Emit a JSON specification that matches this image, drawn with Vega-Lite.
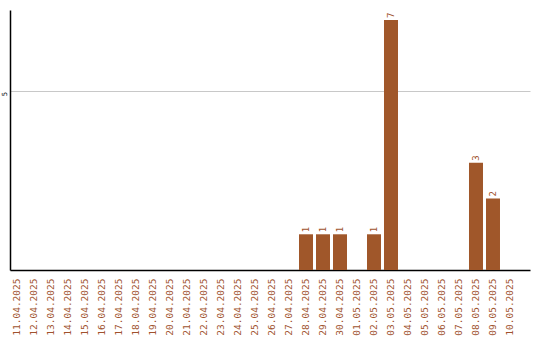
{
  "$schema": "https://vega.github.io/schema/vega-lite/v6.json",
  "autosize": "none",
  "width": 520,
  "height": 260,
  "padding": {"left": 10, "top": 10, "right": 10, "bottom": 70},
  "background": "white",
  "config": {
    "view": {"stroke": null},
    "font": "DejaVu Sans Mono"
  },
  "data": {
    "values": [
      {"date": "11.04.2025", "count": 0},
      {"date": "12.04.2025", "count": 0},
      {"date": "13.04.2025", "count": 0},
      {"date": "14.04.2025", "count": 0},
      {"date": "15.04.2025", "count": 0},
      {"date": "16.04.2025", "count": 0},
      {"date": "17.04.2025", "count": 0},
      {"date": "18.04.2025", "count": 0},
      {"date": "19.04.2025", "count": 0},
      {"date": "20.04.2025", "count": 0},
      {"date": "21.04.2025", "count": 0},
      {"date": "22.04.2025", "count": 0},
      {"date": "23.04.2025", "count": 0},
      {"date": "24.04.2025", "count": 0},
      {"date": "25.04.2025", "count": 0},
      {"date": "26.04.2025", "count": 0},
      {"date": "27.04.2025", "count": 0},
      {"date": "28.04.2025", "count": 1},
      {"date": "29.04.2025", "count": 1},
      {"date": "30.04.2025", "count": 1},
      {"date": "01.05.2025", "count": 0},
      {"date": "02.05.2025", "count": 1},
      {"date": "03.05.2025", "count": 7},
      {"date": "04.05.2025", "count": 0},
      {"date": "05.05.2025", "count": 0},
      {"date": "06.05.2025", "count": 0},
      {"date": "07.05.2025", "count": 0},
      {"date": "08.05.2025", "count": 3},
      {"date": "09.05.2025", "count": 2},
      {"date": "10.05.2025", "count": 0}
    ]
  },
  "encoding": {
    "x": {
      "field": "date",
      "type": "ordinal",
      "sort": null,
      "title": null,
      "scale": {"paddingInner": 0.1765, "paddingOuter": 0.3825, "align": 0},
      "axis": {
        "labelAngle": -90,
        "labelAlign": "right",
        "labelBaseline": "middle",
        "labelPadding": 8,
        "labelColor": "#A0522D",
        "labelFont": "DejaVu Sans Mono",
        "labelFontSize": 9.5,
        "ticks": false,
        "domainColor": "black",
        "domainWidth": 1.5,
        "grid": false
      }
    },
    "y": {
      "field": "count",
      "type": "quantitative",
      "title": null,
      "scale": {"domain": [0, 7.28], "nice": false},
      "axis": {
        "values": [5],
        "ticks": false,
        "labelAngle": -90,
        "labelAlign": "right",
        "labelBaseline": "bottom",
        "labelPadding": 3,
        "labelFontSize": 7,
        "labelColor": "black",
        "domainColor": "black",
        "domainWidth": 1.5,
        "grid": true,
        "gridColor": "#c8c8c8"
      }
    }
  },
  "layer": [
    {"mark": {"type": "bar", "color": "#A0572A"}},
    {
      "transform": [{"filter": "datum.count > 0"}],
      "mark": {
        "type": "text",
        "angle": 270,
        "align": "left",
        "baseline": "middle",
        "dx": 2,
        "fontSize": 9,
        "font": "DejaVu Sans Mono",
        "color": "#A0522D"
      },
      "encoding": {"text": {"field": "count", "type": "quantitative"}}
    }
  ]
}
